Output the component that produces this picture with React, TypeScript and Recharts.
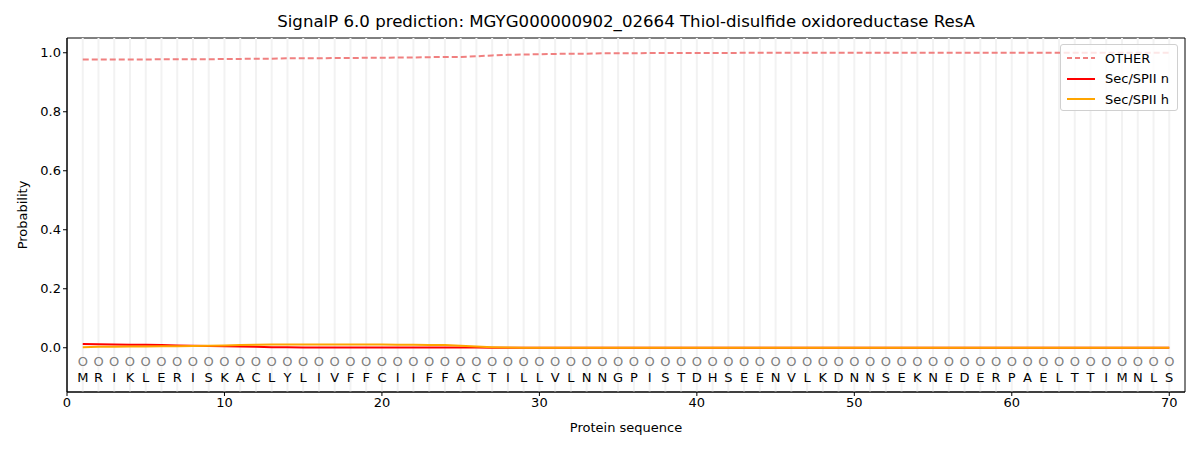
import { LineChart, Line, XAxis, YAxis, ReferenceLine, ReferenceArea } from 'recharts';

// residue sequence (positions 1..70)
const residues = 'MRIKLERISKACLYLIVFFCIIFFACTILLVLNNGPISTDHSEENVLKDNNSEKNEDERPAELTTIMNLS'.split('');

// per-residue predicted state label (all "O")
const states = residues.map(() => 'O');

const otherProb = [
  0.977, 0.977, 0.977, 0.977, 0.977, 0.978, 0.978, 0.978, 0.978, 0.979,
  0.979, 0.980, 0.980, 0.981, 0.981, 0.981, 0.982, 0.982, 0.983, 0.983,
  0.984, 0.984, 0.985, 0.986, 0.986, 0.988, 0.991, 0.993, 0.994, 0.995,
  0.996, 0.997, 0.997, 0.998, 0.998, 0.998, 0.999, 0.999, 0.999, 0.999,
  0.999, 0.999, 1.0, 1.0, 1.0, 1.0, 1.0, 1.0, 1.0, 1.0,
  1.0, 1.0, 1.0, 1.0, 1.0, 1.0, 1.0, 1.0, 1.0, 1.0,
  1.0, 1.0, 1.0, 1.0, 1.0, 1.0, 1.0, 1.0, 1.0, 1.0,
];

const secN = [
  0.013, 0.012, 0.011, 0.010, 0.010, 0.009, 0.008, 0.007, 0.006, 0.005,
  0.004, 0.003, 0.002, 0.002, 0.001, 0.001, 0.001, 0.001, 0.001, 0.001,
  0.001, 0.001, 0.001, 0.001, 0.001, 0.0005, 0, 0, 0, 0,
  0, 0, 0, 0, 0, 0, 0, 0, 0, 0,
  0, 0, 0, 0, 0, 0, 0, 0, 0, 0,
  0, 0, 0, 0, 0, 0, 0, 0, 0, 0,
  0, 0, 0, 0, 0, 0, 0, 0, 0, 0,
];

const secH = [
  0.002, 0.003, 0.003, 0.004, 0.004, 0.005, 0.005, 0.006, 0.007, 0.008,
  0.009, 0.010, 0.011, 0.011, 0.011, 0.011, 0.011, 0.011, 0.011, 0.011,
  0.010, 0.010, 0.009, 0.009, 0.007, 0.004, 0.002, 0.001, 0, 0,
  0, 0, 0, 0, 0, 0, 0, 0, 0, 0,
  0, 0, 0, 0, 0, 0, 0, 0, 0, 0,
  0, 0, 0, 0, 0, 0, 0, 0, 0, 0,
  0, 0, 0, 0, 0, 0, 0, 0, 0, 0,
];

const xTicks = [0, 10, 20, 30, 40, 50, 60, 70];
const yTicks = [0, 0.2, 0.4, 0.6, 0.8, 1.0];

const STATE_Y = -0.045;
const RESIDUE_Y = -0.1;

const data = residues.map((aa, i) => ({
  pos: i + 1,
  aa,
  state: states[i],
  other: otherProb[i],
  n: secN[i],
  h: secH[i],
  stateY: STATE_Y,
  aaY: RESIDUE_Y,
}));

const FONT = 'DejaVu Sans, sans-serif';

const legendItems = [
  { label: 'OTHER', color: '#f08080', dash: '5 3' },
  { label: 'Sec/SPII n', color: '#ff0000', dash: undefined },
  { label: 'Sec/SPII h', color: '#ffa500', dash: undefined },
];

export default function App() {
  return (
    <div style={{ position: 'absolute', left: 0, top: 0, width: 1200, height: 450, background: '#fff', fontFamily: FONT }}>
      <div style={{ position: 'absolute', top: 12, left: 67, width: 1118, textAlign: 'center', fontSize: 16.6, color: '#000' }}>
        SignalP 6.0 prediction: MGYG000000902_02664 Thiol-disulfide oxidoreductase ResA
      </div>
      <div style={{ position: 'absolute', top: 420, left: 67, width: 1118, textAlign: 'center', fontSize: 13, color: '#000' }}>
        Protein sequence
      </div>
      <div style={{ position: 'absolute', left: 22, top: 215, fontSize: 13, color: '#000', transform: 'translate(-50%, -50%) rotate(-90deg)', whiteSpace: 'nowrap' }}>
        Probability
      </div>

      <LineChart width={1200} height={450} data={data} margin={{ top: 38, right: 15, bottom: 28, left: 17 }}>
        {data.map((d) => (
          <ReferenceLine key={d.pos} x={d.pos} stroke="#f2f2f2" strokeWidth={2} />
        ))}
        <XAxis
          dataKey="pos"
          type="number"
          domain={[0, 71]}
          ticks={xTicks}
          height={30}
          tickSize={4}
          stroke="#000"
          tick={{ fill: '#000', fontSize: 13, fontFamily: FONT }}
          interval={0}
        />
        <YAxis
          type="number"
          domain={[-0.15, 1.05]}
          ticks={yTicks}
          width={50}
          tickSize={4}
          stroke="#000"
          tick={{ fill: '#000', fontSize: 13, fontFamily: FONT }}
          tickFormatter={(v: number) => v.toFixed(1)}
          allowDataOverflow
        />
        <ReferenceArea x1={0} x2={71} y1={-0.15} y2={1.05} fill="none" stroke="#000" strokeWidth={1} />
        <Line
          dataKey="stateY"
          stroke="none"
          isAnimationActive={false}
          activeDot={false}
          dot={(p: any) => (
            <text key={`s${p.index}`} x={p.cx} y={p.cy} textAnchor="middle" dominantBaseline="central" fontSize={13} fontFamily={FONT} fill="#808080">
              {p.payload.state}
            </text>
          )}
        />
        <Line
          dataKey="aaY"
          stroke="none"
          isAnimationActive={false}
          activeDot={false}
          dot={(p: any) => (
            <text key={`a${p.index}`} x={p.cx} y={p.cy} textAnchor="middle" dominantBaseline="central" fontSize={13} fontFamily={FONT} fill="#000">
              {p.payload.aa}
            </text>
          )}
        />
        <Line dataKey="other" type="linear" stroke="#f08080" strokeWidth={2} strokeDasharray="6 3" dot={false} isAnimationActive={false} />
        <Line dataKey="n" type="linear" stroke="#ff0000" strokeWidth={2} dot={false} isAnimationActive={false} />
        <Line dataKey="h" type="linear" stroke="#ffa500" strokeWidth={2} dot={false} isAnimationActive={false} />
      </LineChart>

      <div
        style={{
          position: 'absolute', left: 1060, top: 44, width: 116, height: 65,
          border: '1px solid #d0d0d0', borderRadius: 3, background: 'rgba(255,255,255,0.8)',
        }}
      >
        {legendItems.map((it, i) => (
          <div key={it.label} style={{ position: 'absolute', left: 5, top: 4 + i * 20.5, height: 18, display: 'flex', alignItems: 'center', fontSize: 13, color: '#000', whiteSpace: 'nowrap' }}>
            <svg width={30} height={10} style={{ marginRight: 9 }}>
              <line x1={1} y1={5} x2={29} y2={5} stroke={it.color} strokeWidth={2} strokeDasharray={it.dash} />
            </svg>
            {it.label}
          </div>
        ))}
      </div>
    </div>
  );
}
